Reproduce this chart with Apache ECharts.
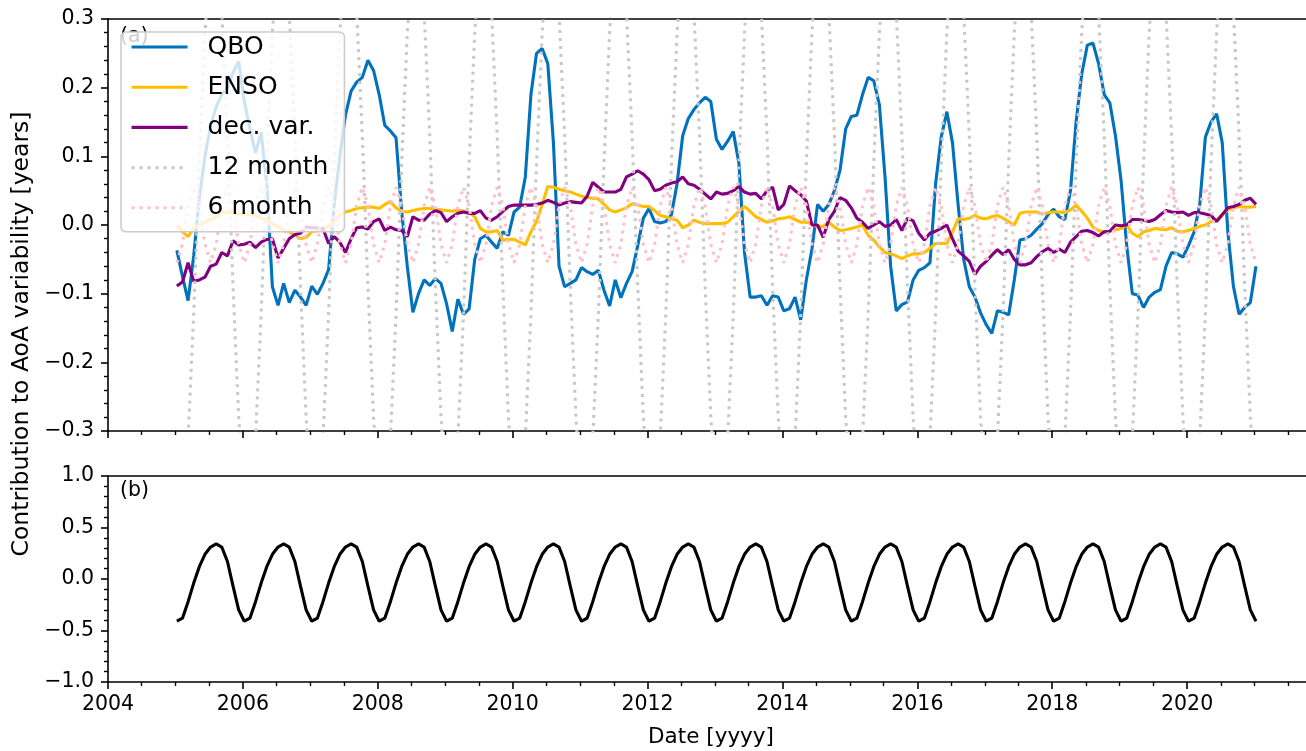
<!DOCTYPE html>
<html>
<head>
<meta charset="utf-8">
<title>AoA variability contributions</title>
<script src="https://cdn.jsdelivr.net/npm/echarts/dist/echarts.min.js"></script>
<style>
  html, body { margin: 0; padding: 0; background: #fff; overflow: hidden; }
  /* a little wider than the window: the last half year of the axis runs off the right edge */
  #chart { width: 1322px; height: 751px; }
</style>
</head>
<body>
<div id="chart"></div>
<script>
// monthly values, Jan 2005 .. Jan 2021 (one row per year)
const START_YEAR = 2005;

const qbo = [
  -0.037, -0.075, -0.110, -0.045, 0.040, 0.100, 0.145, 0.172, 0.190, 0.200, 0.222, 0.238,
  0.180, 0.140, 0.105, 0.135, 0.060, -0.090, -0.117, -0.085, -0.113, -0.095, -0.105, -0.117,
  -0.089, -0.101, -0.085, -0.065, 0.030, 0.100, 0.160, 0.195, 0.208, 0.215, 0.240, 0.225,
  0.190, 0.145, 0.137, 0.127, 0.020, -0.060, -0.127, -0.100, -0.080, -0.088, -0.078, -0.085,
  -0.115, -0.155, -0.108, -0.130, -0.122, -0.050, -0.020, -0.015, -0.025, -0.034, -0.010, -0.015,
  0.019, 0.026, 0.070, 0.190, 0.250, 0.257, 0.235, 0.120, -0.060, -0.090, -0.085, -0.080,
  -0.062, -0.068, -0.072, -0.066, -0.095, -0.118, -0.080, -0.106, -0.085, -0.068, -0.030, 0.010,
  0.024, 0.005, 0.003, 0.005, 0.015, 0.060, 0.130, 0.155, 0.168, 0.178, 0.186, 0.180,
  0.125, 0.110, 0.122, 0.136, 0.090, -0.040, -0.105, -0.105, -0.103, -0.117, -0.103, -0.105,
  -0.125, -0.122, -0.105, -0.138, -0.080, -0.035, 0.030, 0.020, 0.030, 0.050, 0.080, 0.140,
  0.158, 0.160, 0.190, 0.215, 0.210, 0.175, 0.070, -0.060, -0.125, -0.116, -0.112, -0.080,
  -0.066, -0.062, -0.055, 0.060, 0.128, 0.165, 0.120, 0.030, -0.050, -0.090, -0.105, -0.128,
  -0.145, -0.158, -0.125, -0.127, -0.131, -0.080, -0.022, -0.020, -0.015, -0.006, 0.002, 0.015,
  0.023, 0.012, 0.008, 0.050, 0.150, 0.220, 0.262, 0.265, 0.235, 0.190, 0.178, 0.130,
  0.065, -0.030, -0.100, -0.102, -0.120, -0.105, -0.098, -0.094, -0.060, -0.040, -0.042, -0.047,
  -0.030, -0.010, 0.030, 0.128, 0.150, 0.162, 0.120, -0.010, -0.090, -0.130, -0.120, -0.113,
  -0.060
];

const enso = [
  0.000, -0.010, -0.017, -0.005, 0.000, 0.004, 0.008, 0.012, 0.019, 0.019, 0.017, 0.016,
  0.016, 0.015, 0.013, 0.010, 0.008, 0.002, -0.003, -0.007, -0.010, -0.015, -0.020, -0.018,
  -0.010, -0.008, -0.005, -0.002, 0.005, 0.014, 0.019, 0.021, 0.024, 0.025, 0.026, 0.026,
  0.024, 0.030, 0.034, 0.025, 0.020, 0.019, 0.021, 0.023, 0.024, 0.024, 0.023, 0.022,
  0.021, 0.020, 0.022, 0.020, 0.018, 0.012, -0.005, -0.010, -0.010, -0.008, -0.022, -0.021,
  -0.021, -0.025, -0.029, -0.010, 0.005, 0.030, 0.056, 0.055, 0.052, 0.050, 0.048, 0.045,
  0.042, 0.040, 0.039, 0.038, 0.030, 0.022, 0.019, 0.022, 0.025, 0.031, 0.029, 0.027,
  0.027, 0.021, 0.014, 0.012, 0.009, 0.007, -0.004, 0.000, 0.007, 0.004, 0.002, 0.002,
  0.002, 0.002, 0.004, 0.012, 0.020, 0.027, 0.020, 0.012, 0.008, 0.004, 0.006, 0.009,
  0.010, 0.012, 0.008, 0.004, 0.004, 0.002, -0.003, -0.002, 0.004, -0.003, -0.008, -0.007,
  -0.005, -0.003, 0.000, -0.015, -0.022, -0.032, -0.040, -0.042, -0.045, -0.049, -0.045, -0.042,
  -0.042, -0.040, -0.034, -0.027, -0.027, -0.027, -0.010, 0.009, 0.008, 0.010, 0.014, 0.010,
  0.009, 0.012, 0.014, 0.010, 0.005, 0.000, 0.017, 0.019, 0.019, 0.019, 0.016, 0.018,
  0.019, 0.019, 0.018, 0.022, 0.029, 0.020, 0.010, -0.003, -0.008, -0.010, -0.009, -0.007,
  -0.005, 0.000, -0.012, -0.017, -0.010, -0.008, -0.005, -0.006, -0.007, -0.004, -0.009, -0.010,
  -0.008, -0.005, -0.002, 0.000, 0.005, 0.008, 0.016, 0.022, 0.025, 0.027, 0.026, 0.026,
  0.027
];

const decVar = [
  -0.089, -0.083, -0.055, -0.082, -0.080, -0.076, -0.060, -0.057, -0.040, -0.045, -0.023, -0.029,
  -0.028, -0.025, -0.033, -0.025, -0.021, -0.020, -0.048, -0.034, -0.020, -0.014, -0.012, -0.003,
  -0.004, -0.004, -0.005, -0.027, -0.017, -0.025, -0.040, -0.020, -0.004, -0.003, -0.006, 0.005,
  0.009, -0.008, -0.003, -0.007, -0.008, -0.017, 0.012, 0.007, 0.007, 0.016, 0.021, 0.018,
  0.005, 0.012, 0.017, 0.019, 0.017, 0.017, 0.021, 0.010, 0.007, 0.012, 0.020, 0.027,
  0.029, 0.029, 0.029, 0.029, 0.030, 0.032, 0.036, 0.033, 0.029, 0.032, 0.034, 0.033,
  0.032, 0.042, 0.062, 0.055, 0.048, 0.048, 0.048, 0.052, 0.070, 0.074, 0.079, 0.074,
  0.066, 0.050, 0.052, 0.058, 0.061, 0.063, 0.070, 0.060, 0.058, 0.052, 0.045, 0.038,
  0.048, 0.045, 0.046, 0.050, 0.056, 0.048, 0.045, 0.046, 0.038, 0.050, 0.055, 0.022,
  0.030, 0.057, 0.050, 0.044, 0.035, 0.000, 0.000, -0.018, 0.008, 0.020, 0.040, 0.036,
  0.025, 0.010, 0.004, -0.005, 0.000, 0.005, -0.002, 0.000, 0.008, -0.008, 0.010, 0.006,
  -0.012, -0.022, -0.012, -0.009, -0.005, 0.000, -0.020, -0.038, -0.045, -0.053, -0.072, -0.060,
  -0.053, -0.044, -0.036, -0.043, -0.036, -0.050, -0.058, -0.058, -0.055, -0.046, -0.039, -0.034,
  -0.040, -0.035, -0.040, -0.025, -0.017, -0.009, -0.008, -0.011, -0.016, -0.010, -0.009, 0.000,
  -0.001, 0.000, 0.008, 0.008, 0.007, 0.005, 0.008, 0.015, 0.021, 0.019, 0.018, 0.019,
  0.014, 0.018, 0.018, 0.016, 0.014, 0.005, 0.015, 0.025, 0.027, 0.030, 0.036, 0.039,
  0.030
];

// annual harmonic (runs far outside the panel, clipped)
const month12 = [
  -0.40, -0.41, -0.31, -0.13, 0.09, 0.28, 0.40, 0.41, 0.31, 0.13, -0.09, -0.28,
  -0.40, -0.41, -0.31, -0.13, 0.09, 0.28, 0.40, 0.41, 0.31, 0.13, -0.09, -0.28,
  -0.40, -0.41, -0.31, -0.13, 0.09, 0.28, 0.40, 0.41, 0.31, 0.13, -0.09, -0.28,
  -0.40, -0.41, -0.31, -0.13, 0.09, 0.28, 0.40, 0.41, 0.31, 0.13, -0.09, -0.28,
  -0.40, -0.41, -0.31, -0.13, 0.09, 0.28, 0.40, 0.41, 0.31, 0.13, -0.09, -0.28,
  -0.40, -0.41, -0.31, -0.13, 0.09, 0.28, 0.40, 0.41, 0.31, 0.13, -0.09, -0.28,
  -0.40, -0.41, -0.31, -0.13, 0.09, 0.28, 0.40, 0.41, 0.31, 0.13, -0.09, -0.28,
  -0.40, -0.41, -0.31, -0.13, 0.09, 0.28, 0.40, 0.41, 0.31, 0.13, -0.09, -0.28,
  -0.40, -0.41, -0.31, -0.13, 0.09, 0.28, 0.40, 0.41, 0.31, 0.13, -0.09, -0.28,
  -0.40, -0.41, -0.31, -0.13, 0.09, 0.28, 0.40, 0.41, 0.31, 0.13, -0.09, -0.28,
  -0.40, -0.41, -0.31, -0.13, 0.09, 0.28, 0.40, 0.41, 0.31, 0.13, -0.09, -0.28,
  -0.40, -0.41, -0.31, -0.13, 0.09, 0.28, 0.40, 0.41, 0.31, 0.13, -0.09, -0.28,
  -0.40, -0.41, -0.31, -0.13, 0.09, 0.28, 0.40, 0.41, 0.31, 0.13, -0.09, -0.28,
  -0.40, -0.41, -0.31, -0.13, 0.09, 0.28, 0.40, 0.41, 0.31, 0.13, -0.09, -0.28,
  -0.40, -0.41, -0.31, -0.13, 0.09, 0.28, 0.40, 0.41, 0.31, 0.13, -0.09, -0.28,
  -0.40, -0.41, -0.31, -0.13, 0.09, 0.28, 0.40, 0.41, 0.31, 0.13, -0.09, -0.28,
  -0.40
];

const month6 = [
  -0.055, -0.028, 0.028, 0.055, 0.028, -0.028, -0.055, -0.028, 0.028, 0.055, 0.028, -0.028,
  -0.055, -0.028, 0.028, 0.055, 0.028, -0.028, -0.055, -0.028, 0.028, 0.055, 0.028, -0.028,
  -0.055, -0.028, 0.028, 0.055, 0.028, -0.028, -0.055, -0.028, 0.028, 0.055, 0.028, -0.028,
  -0.055, -0.028, 0.028, 0.055, 0.028, -0.028, -0.055, -0.028, 0.028, 0.055, 0.028, -0.028,
  -0.055, -0.028, 0.028, 0.055, 0.028, -0.028, -0.055, -0.028, 0.028, 0.055, 0.028, -0.028,
  -0.055, -0.028, 0.028, 0.055, 0.028, -0.028, -0.055, -0.028, 0.028, 0.055, 0.028, -0.028,
  -0.055, -0.028, 0.028, 0.055, 0.028, -0.028, -0.055, -0.028, 0.028, 0.055, 0.028, -0.028,
  -0.055, -0.028, 0.028, 0.055, 0.028, -0.028, -0.055, -0.028, 0.028, 0.055, 0.028, -0.028,
  -0.055, -0.028, 0.028, 0.055, 0.028, -0.028, -0.055, -0.028, 0.028, 0.055, 0.028, -0.028,
  -0.055, -0.028, 0.028, 0.055, 0.028, -0.028, -0.055, -0.028, 0.028, 0.055, 0.028, -0.028,
  -0.055, -0.028, 0.028, 0.055, 0.028, -0.028, -0.055, -0.028, 0.028, 0.055, 0.028, -0.028,
  -0.055, -0.028, 0.028, 0.055, 0.028, -0.028, -0.055, -0.028, 0.028, 0.055, 0.028, -0.028,
  -0.055, -0.028, 0.028, 0.055, 0.028, -0.028, -0.055, -0.028, 0.028, 0.055, 0.028, -0.028,
  -0.055, -0.028, 0.028, 0.055, 0.028, -0.028, -0.055, -0.028, 0.028, 0.055, 0.028, -0.028,
  -0.055, -0.028, 0.028, 0.055, 0.028, -0.028, -0.055, -0.028, 0.028, 0.055, 0.028, -0.028,
  -0.055, -0.028, 0.028, 0.055, 0.028, -0.028, -0.055, -0.028, 0.028, 0.055, 0.028, -0.028,
  -0.055
];

// panel (b)
const seasonal = [
  -0.41, -0.38, -0.22, -0.04, 0.12, 0.24, 0.31, 0.34, 0.31, 0.17, -0.07, -0.30,
  -0.41, -0.38, -0.22, -0.04, 0.12, 0.24, 0.31, 0.34, 0.31, 0.17, -0.07, -0.30,
  -0.41, -0.38, -0.22, -0.04, 0.12, 0.24, 0.31, 0.34, 0.31, 0.17, -0.07, -0.30,
  -0.41, -0.38, -0.22, -0.04, 0.12, 0.24, 0.31, 0.34, 0.31, 0.17, -0.07, -0.30,
  -0.41, -0.38, -0.22, -0.04, 0.12, 0.24, 0.31, 0.34, 0.31, 0.17, -0.07, -0.30,
  -0.41, -0.38, -0.22, -0.04, 0.12, 0.24, 0.31, 0.34, 0.31, 0.17, -0.07, -0.30,
  -0.41, -0.38, -0.22, -0.04, 0.12, 0.24, 0.31, 0.34, 0.31, 0.17, -0.07, -0.30,
  -0.41, -0.38, -0.22, -0.04, 0.12, 0.24, 0.31, 0.34, 0.31, 0.17, -0.07, -0.30,
  -0.41, -0.38, -0.22, -0.04, 0.12, 0.24, 0.31, 0.34, 0.31, 0.17, -0.07, -0.30,
  -0.41, -0.38, -0.22, -0.04, 0.12, 0.24, 0.31, 0.34, 0.31, 0.17, -0.07, -0.30,
  -0.41, -0.38, -0.22, -0.04, 0.12, 0.24, 0.31, 0.34, 0.31, 0.17, -0.07, -0.30,
  -0.41, -0.38, -0.22, -0.04, 0.12, 0.24, 0.31, 0.34, 0.31, 0.17, -0.07, -0.30,
  -0.41, -0.38, -0.22, -0.04, 0.12, 0.24, 0.31, 0.34, 0.31, 0.17, -0.07, -0.30,
  -0.41, -0.38, -0.22, -0.04, 0.12, 0.24, 0.31, 0.34, 0.31, 0.17, -0.07, -0.30,
  -0.41, -0.38, -0.22, -0.04, 0.12, 0.24, 0.31, 0.34, 0.31, 0.17, -0.07, -0.30,
  -0.41, -0.38, -0.22, -0.04, 0.12, 0.24, 0.31, 0.34, 0.31, 0.17, -0.07, -0.30,
  -0.41
];

const legendNames = ['QBO', 'ENSO', 'dec. var.', '12 month', '6 month'];

// decimal year of each monthly sample
const dates = qbo.map((_, i) => START_YEAR + (i + 0.25) / 12);
const pairs = (arr) => arr.map((v, i) => [dates[i], v]);

const FONT = 'DejaVu Sans';
const BLACK = '#000';

function fmtY(v) {
    let s = v.toFixed(1);
    if (s === '-0.0') s = '0.0';
    return s.replace('-', '\u2212');
}

function xAxisBase(grid, showLabel) {
    return {
        type: 'value',
        gridIndex: grid,
        min: 2004,
        max: 2022,
        interval: 2,
        axisLine: { show: true, onZero: false, lineStyle: { color: BLACK, width: 1.6 } },
        axisTick: { show: true, length: 7, lineStyle: { color: BLACK, width: 1.6 } },
        minorTick: { show: true, splitNumber: 4, length: 4, lineStyle: { color: BLACK, width: 1.4 } },
        splitLine: { show: false },
        axisLabel: {
            show: showLabel,
            showMaxLabel: false,
            margin: 12,
            color: BLACK,
            fontFamily: FONT,
            fontSize: 20.5,
            formatter: (v) => String(Math.round(v))
        }
    };
}

// plain line used as the upper frame edge of a panel
function topEdge(grid) {
    return {
        type: 'value',
        gridIndex: grid,
        position: 'top',
        min: 2004,
        max: 2022,
        axisLine: { show: true, onZero: false, lineStyle: { color: BLACK, width: 1.6 } },
        axisTick: { show: false },
        axisLabel: { show: false },
        splitLine: { show: false }
    };
}

function yAxisBase(grid, min, max, interval) {
    return {
        type: 'value',
        gridIndex: grid,
        min: min,
        max: max,
        interval: interval,
        axisLine: { show: true, onZero: false, lineStyle: { color: BLACK, width: 1.6 } },
        axisTick: { show: true, length: 7, lineStyle: { color: BLACK, width: 1.6 } },
        minorTick: { show: true, splitNumber: 5, length: 4, lineStyle: { color: BLACK, width: 1.4 } },
        splitLine: { show: false },
        axisLabel: {
            margin: 14,
            color: BLACK,
            fontFamily: FONT,
            fontSize: 20.5,
            formatter: fmtY
        }
    };
}

function lineSeries(name, data, color, dash, xi, yi) {
    return {
        name: name,
        type: 'line',
        xAxisIndex: xi,
        yAxisIndex: yi,
        data: pairs(data),
        symbol: 'none',
        clip: true,
        lineStyle: { color: color, width: 3.1, type: dash || 'solid', cap: 'butt' },
        itemStyle: { color: color },
        emphasis: { disabled: true }
    };
}

const chart = echarts.init(document.getElementById('chart'), null, { renderer: 'canvas' });

const option = {
    animation: false,
    backgroundColor: '#fff',
    grid: [
        { left: 108, right: 0, top: 19, height: 412 },
        { left: 108, right: 0, top: 476, height: 206 }
    ],
    xAxis: [
        xAxisBase(0, false),
        xAxisBase(1, true),
        topEdge(0),
        topEdge(1)
    ],
    yAxis: [
        yAxisBase(0, -0.3, 0.3, 0.1),
        yAxisBase(1, -1, 1, 0.5)
    ],
    legend: {
        data: legendNames,
        orient: 'vertical',
        left: 121,
        top: 32,
        itemWidth: 56,
        itemHeight: 14,
        itemGap: 14.2,
        padding: [2, 16, 11, 9],
        backgroundColor: 'rgba(255,255,255,0.8)',
        borderColor: '#cccccc',
        borderWidth: 1.6,
        borderRadius: 5,
        selectedMode: false,
        itemStyle: { opacity: 0, borderWidth: 0 },
        lineStyle: { width: 3.1 },
        textStyle: {
            fontFamily: FONT,
            fontSize: 25,
            lineHeight: 26,
            color: BLACK,
            padding: [0, 0, 0, 15]
        }
    },
    graphic: [
        {
            type: 'text', z: 1, x: 120, y: 37,
            style: { text: '(a)', font: '20.5px "DejaVu Sans"', fill: BLACK, verticalAlign: 'middle' }
        },
        {
            type: 'text', z: 1, x: 120, y: 491,
            style: { text: '(b)', font: '20.5px "DejaVu Sans"', fill: BLACK, verticalAlign: 'middle' }
        },
        {
            type: 'text', x: 22, y: 334, rotation: Math.PI / 2,
            style: {
                text: 'Contribution to AoA variability [years]',
                font: '23.5px "DejaVu Sans"', fill: BLACK, align: 'center', verticalAlign: 'middle'
            }
        },
        {
            type: 'text', x: 711, y: 737,
            style: {
                text: 'Date [yyyy]',
                font: '21.5px "DejaVu Sans"', fill: BLACK, align: 'center', verticalAlign: 'middle'
            }
        }
    ],
    series: [
        lineSeries('QBO', qbo, '#0072BD', null, 0, 0),
        lineSeries('ENSO', enso, '#FFBF00', null, 0, 0),
        lineSeries('dec. var.', decVar, '#800080', null, 0, 0),
        lineSeries('12 month', month12, '#c8c8c8', [3, 5], 0, 0),
        lineSeries('6 month', month6, '#ffc0cb', [3, 5], 0, 0),
        lineSeries('seasonal', seasonal, BLACK, null, 1, 1)
    ]
};

chart.setOption(option);
</script>
</body>
</html>
